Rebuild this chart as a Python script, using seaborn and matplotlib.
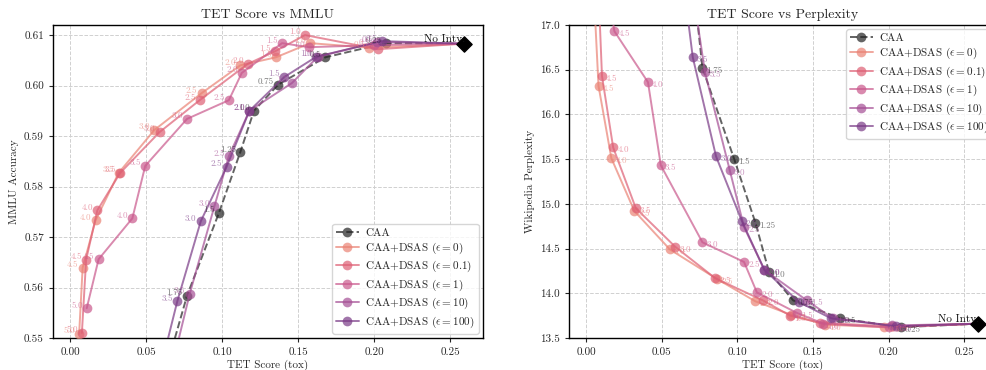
import matplotlib
matplotlib.use("Agg")
import numpy as np
import pandas as pd
import seaborn as sns
import matplotlib.pyplot as plt

sns.set_style("white")
plt.rcParams["font.family"] = ["cmr10", "DejaVu Serif"]
plt.rcParams["mathtext.fontset"] = "cm"
plt.rcParams["axes.formatter.use_mathtext"] = True

# ---------------- data ----------------
no_intv_tet = 0.259
no_intv_mmlu = 0.6083
no_intv_ppl = 13.66

caa_coef = [0.25, 0.5, 0.75, 1.0, 1.25, 1.5, 1.75, 2.0]
caa_tet = [0.208, 0.168, 0.137, 0.121, 0.112, 0.098, 0.077, 0.062]
caa_mmlu = [0.6084, 0.6056, 0.6002, 0.5950, 0.5868, 0.5748, 0.5584, 0.5426]
caa_ppl = [13.62, 13.72, 13.92, 14.24, 14.79, 15.50, 16.52, 18.9]

dsas_coef = [0.5, 1.0, 1.5, 2.0, 2.5, 3.0, 3.5, 4.0, 4.5, 5.0]

eps0_tet = [0.197, 0.158, 0.1355, 0.112, 0.0866, 0.0555, 0.032, 0.0168, 0.0083, 0.0060]
eps0_mmlu = [0.6075, 0.6084, 0.6056, 0.6040, 0.5985, 0.5912, 0.5827, 0.5733, 0.5639, 0.5508]
eps0_ppl = [13.62, 13.65, 13.76, 13.91, 14.16, 14.49, 14.92, 15.51, 16.32, 17.1]

eps01_tet = [0.2026, 0.1546, 0.135, 0.117, 0.0853, 0.059, 0.033, 0.018, 0.0106, 0.0078]
eps01_mmlu = [0.6072, 0.6100, 0.6068, 0.6043, 0.5971, 0.5908, 0.5827, 0.5753, 0.5655, 0.5510]
eps01_ppl = [13.63, 13.67, 13.75, 13.92, 14.17, 14.52, 14.95, 15.63, 16.43, 17.6]

eps1_tet = [0.200, 0.157, 0.1395, 0.113, 0.1045, 0.0770, 0.0495, 0.041, 0.0188, 0.011]
eps1_mmlu = [0.6080, 0.6076, 0.6084, 0.6025, 0.5971, 0.5934, 0.5841, 0.5737, 0.5656, 0.5559]
eps1_ppl = [13.62, 13.66, 13.78, 14.01, 14.35, 14.57, 15.43, 16.36, 16.93, 17.8]

eps10_tet = [0.202, 0.163, 0.146, 0.118, 0.1045, 0.0950, 0.0787, 0.066]
eps10_mmlu = [0.6086, 0.6057, 0.6005, 0.5950, 0.5860, 0.5761, 0.5587, 0.543]
eps10_ppl = [13.64, 13.72, 13.92, 14.26, 14.74, 15.38, 16.47, 17.9]

eps100_tet = [0.205, 0.162, 0.141, 0.118, 0.103, 0.086, 0.0706, 0.060]
eps100_mmlu = [0.6088, 0.6057, 0.6017, 0.5950, 0.5839, 0.5731, 0.5573, 0.5445]
eps100_ppl = [13.63, 13.72, 13.90, 14.26, 14.81, 15.53, 16.64, 18.07]

series = [
    ("CAA", caa_coef, caa_tet, caa_mmlu, caa_ppl),
    (r"CAA+DSAS ($\epsilon = 0$)", dsas_coef, eps0_tet, eps0_mmlu, eps0_ppl),
    (r"CAA+DSAS ($\epsilon = 0.1$)", dsas_coef, eps01_tet, eps01_mmlu, eps01_ppl),
    (r"CAA+DSAS ($\epsilon = 1$)", dsas_coef, eps1_tet, eps1_mmlu, eps1_ppl),
    (r"CAA+DSAS ($\epsilon = 10$)", dsas_coef[:8], eps10_tet, eps10_mmlu, eps10_ppl),
    (r"CAA+DSAS ($\epsilon = 100$)", dsas_coef[:8], eps100_tet, eps100_mmlu, eps100_ppl),
]

colors = ["#222222", "#ea8274", "#de5f74", "#c9588c", "#a54f95", "#7a3a86"]

# ---------------- figure ----------------
fig = plt.figure(figsize=(9.87, 3.70), dpi=100)
axL = fig.add_axes([53 / 987, 0.0865, 430 / 987, 0.846])
axR = fig.add_axes([569 / 987, 0.0865, 428 / 987, 0.846])

panels = [
    (axL, 3, "MMLU Accuracy", "TET Score vs MMLU", (0.55, 0.612), (-3, 2), "right", no_intv_mmlu),
    (axR, 4, "Wikipedia Perplexity", "TET Score vs Perplexity", (13.5, 17.0), (3, -2), "left", no_intv_ppl),
]

for ax, yi, ylab, title, ylim, off, ha, ni_y in panels:
    for k, s in enumerate(series):
        name, coefs, tet = s[0], s[1], s[2]
        yv = s[yi]
        df = pd.DataFrame({"tet": [no_intv_tet] + list(tet), "y": [ni_y] + list(yv)})
        ls = "--" if k == 0 else "-"
        sns.lineplot(data=df, x="tet", y="y", ax=ax, sort=False, estimator=None,
                     color=colors[k], linestyle=ls, linewidth=1.4, marker="o",
                     markersize=7, markeredgewidth=0, alpha=0.7, label=name, zorder=3 + k)
        for c, xx, yy in zip(coefs, tet, yv):
            if ylim[0] <= yy <= ylim[1]:
                ax.annotate(str(c), (xx, yy), xytext=off, textcoords="offset points",
                            fontsize=6.5, color=colors[k], alpha=0.6, ha=ha, va="center",
                            zorder=10)
    ax.scatter([no_intv_tet], [ni_y], marker="D", s=60, color="black", zorder=20)
    ax.annotate("No Intv.", (no_intv_tet, ni_y), xytext=(1, 3.5), textcoords="offset points",
                fontsize=8, ha="right", va="center", color="#111111", zorder=21)
    ax.set_xlim(-0.0112, 0.2717)
    ax.set_ylim(*ylim)
    ax.set_xticks([0.0, 0.05, 0.10, 0.15, 0.20, 0.25])
    ax.set_xticklabels(["0.00", "0.05", "0.10", "0.15", "0.20", "0.25"])
    ax.grid(True, linestyle="--", linewidth=0.7, color="#d0d0d0")
    ax.set_xlabel("TET Score (tox)", fontsize=8, labelpad=2)
    ax.set_ylabel(ylab, fontsize=8)
    ax.set_title(title, fontsize=10, pad=5)
    ax.tick_params(labelsize=8, direction="out", length=3, left=True, bottom=True)
    for sp in ax.spines.values():
        sp.set_color("black")
        sp.set_linewidth(1.0)

axL.set_yticks([0.55, 0.56, 0.57, 0.58, 0.59, 0.60, 0.61])
axL.set_yticklabels(["0.55", "0.56", "0.57", "0.58", "0.59", "0.60", "0.61"])
axR.set_yticks([13.5, 14.0, 14.5, 15.0, 15.5, 16.0, 16.5, 17.0])
axR.set_yticklabels(["13.5", "14.0", "14.5", "15.0", "15.5", "16.0", "16.5", "17.0"])

leg_kw = dict(fontsize=8, framealpha=0.8, borderaxespad=0.4, labelspacing=0.28,
              borderpad=0.35, handletextpad=0.6)
axL.legend(loc="lower right", **leg_kw)
axR.legend(loc="upper right", **leg_kw)

fig.savefig("out.png", dpi=100)
